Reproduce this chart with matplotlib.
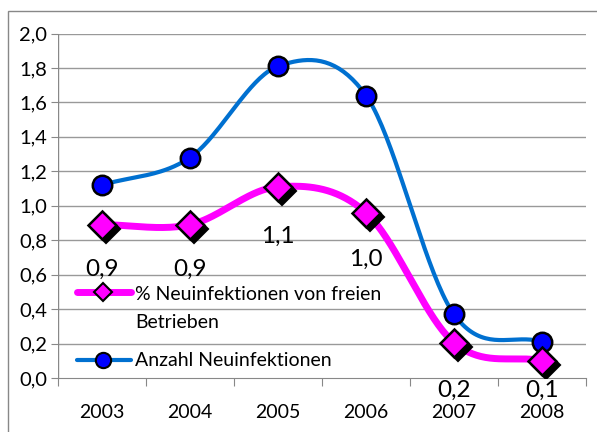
import numpy as np
import matplotlib.pyplot as plt
from matplotlib import transforms
from matplotlib.lines import Line2D
from matplotlib.patches import Rectangle

plt.rcParams['font.family'] = ['Lato', 'DejaVu Sans']

# Daten
jahre = ['2003', '2004', '2005', '2006', '2007', '2008']
anzahl = [1.12, 1.28, 1.81, 1.64, 0.37, 0.21]
prozent = [0.89, 0.89, 1.11, 0.96, 0.205, 0.10]
labels = ['0,9', '0,9', '1,1', '1,0', '0,2', '0,1']
label_off = [-0.26, -0.26, -0.29, -0.27, -0.275, -0.17]  # Abstand in y-Einheiten


def smooth(xs, ys, n=40):
    # Catmull-Rom Kurve wie in Excel
    xs = np.asarray(xs, float)
    ys = np.asarray(ys, float)
    px = np.concatenate([[2 * xs[0] - xs[1]], xs, [2 * xs[-1] - xs[-2]]])
    py = np.concatenate([[2 * ys[0] - ys[1]], ys, [2 * ys[-1] - ys[-2]]])
    ox, oy = [], []
    for i in range(1, len(px) - 2):
        t = np.linspace(0, 1, n)
        for p, out in ((px, ox), (py, oy)):
            p0, p1, p2, p3 = p[i - 1], p[i], p[i + 1], p[i + 2]
            b1 = p1 + (p2 - p0) / 6
            b2 = p2 - (p3 - p1) / 6
            out.extend((1 - t) ** 3 * p1 + 3 * (1 - t) ** 2 * t * b1
                       + 3 * (1 - t) * t ** 2 * b2 + t ** 3 * p2)
    return np.array(ox), np.array(oy)


fig = plt.figure(figsize=(5.97, 4.32), dpi=100)
W, H = 597, 432


def fx(px):
    return px / W


def fy(py):
    return 1 - py / H


ax = fig.add_axes([fx(58), fy(378), (586 - 58) / W, (378 - 33.5) / H])

x = np.arange(len(jahre))
ax.set_xlim(-0.5, len(jahre) - 0.5)
ax.set_ylim(0, 2.0)

# Gitter
for v in np.arange(0.2, 2.01, 0.2):
    ax.axhline(v, color='#999999', lw=1.0, zorder=0)

# Linien
sx, sy = smooth(x, anzahl)
ax.plot(sx, sy, color='#0070D0', lw=3.0, zorder=2, solid_capstyle='round')
sx, sy = smooth(x, prozent)
ax.plot(sx, sy, color='#FF00FF', lw=5.0, zorder=3, solid_capstyle='round')

# Marker
ax.plot(x, anzahl, 'o', ms=14, mfc='#0000FF', mec='black', mew=1.8, zorder=4)
shadow = transforms.offset_copy(ax.transData, fig=fig, x=4, y=-4, units='dots')
ax.plot(x, prozent, 'D', ms=14, mfc='black', mec='black', mew=1.5,
        transform=shadow, zorder=4)
ax.plot(x, prozent, 'D', ms=14, mfc='#FF00FF', mec='black', mew=1.8, zorder=5)

for xi, yi, lab, off in zip(x, prozent, labels, label_off):
    ax.text(xi, yi + off, lab, ha='center', va='center', fontsize=17.5,
            zorder=6, clip_on=False)

# Achsen
for s in ['top', 'right', 'left']:
    ax.spines[s].set_visible(False)
ax.spines['bottom'].set_color('#888888')
ax.axvline(-0.5, color='#888888', lw=1.0, zorder=1)
ax.set_yticks(np.arange(0, 2.01, 0.2))
ax.set_yticklabels([f'{v:.1f}'.replace('.', ',') for v in np.arange(0, 2.01, 0.2)],
                   fontsize=14.5)
ax.tick_params(axis='y', length=5, color='#888888', pad=3)
ax.set_xticks(np.arange(-0.5, len(jahre), 1.0))
ax.set_xticklabels([])
ax.tick_params(axis='x', length=6, color='#888888')
for xi, j in zip(x, jahre):
    ax.text(xi, -0.2, j, ha='center', va='center', fontsize=14, clip_on=False)

# Legende (von Hand, wie im Original)
fig.add_artist(Line2D([fx(77), fx(131)], [fy(292), fy(292)], color='#FF00FF',
                      lw=5, solid_capstyle='round'))
fig.add_artist(Line2D([fx(103)], [fy(292)], marker='D', ms=9, mfc='#FF00FF',
                      mec='black', mew=1.5))
fig.add_artist(Line2D([fx(77), fx(131)], [fy(360), fy(360)], color='#0070D0',
                      lw=3, solid_capstyle='round'))
fig.add_artist(Line2D([fx(103)], [fy(360)], marker='o', ms=11, mfc='#0000FF',
                      mec='black', mew=1.5))
fig.text(fx(135), fy(294), '% Neuinfektionen von freien', fontsize=14, va='center')
fig.text(fx(135), fy(322), 'Betrieben', fontsize=14, va='center')
fig.text(fx(135), fy(361), 'Anzahl Neuinfektionen', fontsize=14, va='center')

# Rahmen
fig.patches.append(Rectangle((fx(8), -0.1), 1.2, fy(11) + 0.1,
                             transform=fig.transFigure, fill=False,
                             edgecolor='#888888', lw=1.0))

plt.savefig('out.png', dpi=100)
